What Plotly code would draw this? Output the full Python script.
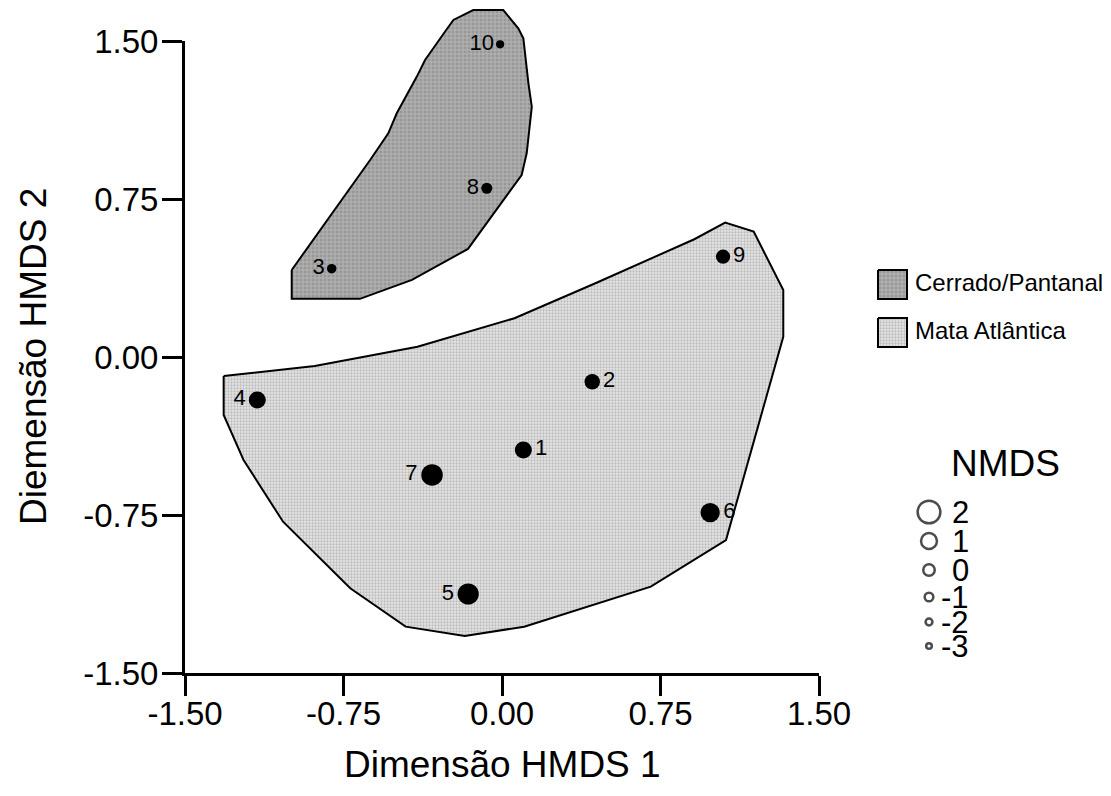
import plotly.graph_objects as go

# ---------------- data ----------------
site_ids = ["1", "2", "3", "4", "5", "6", "7", "8", "9", "10"]
dim1 = [0.101, 0.427, -0.806, -1.158, -0.160, 0.985, -0.331, -0.072, 1.046, -0.009]
dim2 = [-0.441, -0.117, 0.419, -0.204, -1.125, -0.739, -0.560, 0.801, 0.476, 1.484]
nmds_size = [0.73, 0.39, -1.89, 0.73, 1.47, 1.16, 1.51, -1.07, 0.08, -3.0]
label_side = ["right", "right", "left", "left", "left", "right", "left", "left", "right", "left"]

cerrado_x = [-0.995, -0.995, -0.672, -0.426, -0.161, 0.093, 0.117, 0.141, 0.125, 0.101,
             0.077, 0.006, -0.136, -0.230, -0.270, -0.364, -0.403, -0.498, -0.538, -0.624]
cerrado_y = [0.413, 0.276, 0.276, 0.366, 0.513, 0.864, 0.968, 1.188, 1.299, 1.513,
             1.560, 1.647, 1.647, 1.600, 1.544, 1.410, 1.331, 1.157, 1.062, 0.935]

mata_x = [-1.317, -0.886, -0.400, 0.059, 0.442, 0.910, 1.056, 1.191, 1.331, 1.331,
          1.060, 0.704, 0.105, -0.176, -0.456, -0.718, -1.036, -1.223, -1.317]
mata_y = [-0.090, -0.043, 0.049, 0.184, 0.350, 0.559, 0.638, 0.595, 0.318, 0.096,
          -0.869, -1.090, -1.280, -1.324, -1.280, -1.098, -0.782, -0.489, -0.275]

group_names = ["Cerrado/Pantanal", "Mata Atlântica"]
size_levels = [2, 1, 0, -1, -2, -3]
size_labels = ["2", "1", "0", "-1", "-2", "-3"]
axis_ticks = [-1.5, -0.75, 0.0, 0.75, 1.5]
axis_ticktext = ["-1.50", "-0.75", "0.00", "0.75", "1.50"]

# ---------------- styling / geometry ----------------
W, H = 1111, 796
PX_L, PX_R, PX_T, PX_B = 185, 819, 41, 673
FONT = "Liberation Sans, Arial, Helvetica, sans-serif"
TICK_SIZE = 33
TITLE_SIZE = 37
RING_LW = 2.5


def diam(v):
    """bubble diameter (px) for a value of the size variable"""
    return 6.0 + 8.0 * 1.55 ** v


def closed(seq):
    return list(seq) + [seq[0]]


y_per_px = 3.0 / (PX_B - PX_T)
y_top_ext = 1.5 + PX_T * y_per_px

pat_cerrado = dict(shape="+", size=4, solidity=0.4, bgcolor="#979797", fgcolor="#dcdcdc")
pat_mata = dict(shape=".", size=3, solidity=0.45, bgcolor="#e6e6e6", fgcolor="#909090")

fig = go.Figure()

# group hulls (on an extended y axis with identical scale so nothing is clipped)
fig.add_trace(go.Scatter(x=closed(cerrado_x), y=closed(cerrado_y), xaxis="x", yaxis="y2",
                         mode="lines", fill="toself", fillpattern=pat_cerrado,
                         line=dict(color="black", width=2), hoverinfo="skip", showlegend=False))
fig.add_trace(go.Scatter(x=closed(mata_x), y=closed(mata_y), xaxis="x", yaxis="y2",
                         mode="lines", fill="toself", fillpattern=pat_mata,
                         line=dict(color="black", width=2), hoverinfo="skip", showlegend=False))

# points
for side in ["left", "right"]:
    idx = [i for i in range(len(site_ids)) if label_side[i] == side]
    fig.add_trace(go.Scatter(
        x=[dim1[i] for i in idx], y=[dim2[i] for i in idx], xaxis="x", yaxis="y2",
        mode="markers+text", text=[site_ids[i] for i in idx],
        textposition="middle " + side,
        textfont=dict(family=FONT, size=22, color="black"),
        marker=dict(color="black", size=[diam(nmds_size[i]) for i in idx],
                    line=dict(width=0), opacity=1),
        cliponaxis=False, showlegend=False))

# invisible anchor on main axes so they render
fig.add_trace(go.Scatter(x=[None], y=[None], xaxis="x", yaxis="y", showlegend=False))

# ---------------- custom legends (pixel overlay axis) ----------------
box_x0, box_x1 = 878, 907
box_rows = [(270, 299), (318, 347)]
pats = [pat_cerrado, pat_mata]
for (y0, y1), name, pat in zip(box_rows, group_names, pats):
    fig.add_trace(go.Scatter(x=[box_x0, box_x1, box_x1, box_x0, box_x0],
                             y=[y0, y0, y1, y1, y0], xaxis="x3", yaxis="y3",
                             mode="lines", fill="toself", fillpattern=pat,
                             line=dict(color="black", width=2), hoverinfo="skip", showlegend=False))
    fig.add_trace(go.Scatter(x=[box_x1 + 8], y=[(y0 + y1) / 2], xaxis="x3", yaxis="y3",
                             mode="text", text=[name], textposition="middle right",
                             textfont=dict(family=FONT, size=24, color="black"),
                             hoverinfo="skip", showlegend=False, cliponaxis=False))

circ_x = 929
circ_y = [512, 541, 570, 597, 622, 646]
fig.add_trace(go.Scatter(x=[circ_x] * len(size_levels), y=circ_y, xaxis="x3", yaxis="y3",
                         mode="markers", marker=dict(symbol="circle-open", color="black",
                                                     size=[diam(v) - RING_LW for v in size_levels],
                                                     line=dict(width=RING_LW, color="black")),
                         hoverinfo="skip", showlegend=False, cliponaxis=False))
for yy, lab in zip(circ_y, size_labels):
    fig.add_annotation(x=970, y=yy, xref="x3", yref="y3", text=lab, showarrow=False,
                       font=dict(family=FONT, size=31, color="black"),
                       xanchor="right", yanchor="middle", borderpad=0)

fig.add_annotation(x=1005 / W, y=1 - 463 / H, xref="paper", yref="paper", text="NMDS",
                   showarrow=False, font=dict(family=FONT, size=37, color="black"),
                   xanchor="center", yanchor="middle")

# axis titles
fig.add_annotation(x=(PX_L + PX_R) / 2 / W, y=1 - 764 / H, xref="paper", yref="paper",
                   text="Dimensão HMDS 1", showarrow=False,
                   font=dict(family=FONT, size=TITLE_SIZE, color="black"),
                   xanchor="center", yanchor="middle")
fig.add_annotation(x=33 / W, y=1 - (PX_T + PX_B) / 2 / H, xref="paper", yref="paper",
                   text="Diemensão HMDS 2", showarrow=False, textangle=-90,
                   font=dict(family=FONT, size=TITLE_SIZE, color="black"),
                   xanchor="center", yanchor="middle")

axis_common = dict(
    tickvals=axis_ticks, ticktext=axis_ticktext, ticks="outside", ticklen=20, tickwidth=3,
    tickcolor="black", showline=True, linewidth=3, linecolor="black", showgrid=False,
    zeroline=False, tickfont=dict(family=FONT, size=TICK_SIZE, color="black"),
    fixedrange=True, automargin=False,
)
hidden = dict(visible=False, fixedrange=True, automargin=False, showgrid=False, zeroline=False)

fig.update_layout(
    width=W, height=H, margin=dict(l=0, r=0, t=0, b=0, pad=0, autoexpand=False),
    paper_bgcolor="white", plot_bgcolor="rgba(0,0,0,0)", showlegend=False,
    xaxis=dict(domain=[PX_L / W, PX_R / W], range=[-1.5, 1.5], anchor="y",
               ticklabelstandoff=-11, **axis_common),
    yaxis=dict(domain=[1 - PX_B / H, 1 - PX_T / H], range=[-1.5, 1.5], anchor="x",
               ticklabelstandoff=-3, **axis_common),
    yaxis2=dict(domain=[1 - PX_B / H, 1.0], range=[-1.5, y_top_ext], anchor="x", **hidden),
    xaxis3=dict(domain=[840 / W, 1.0], range=[840, W], anchor="y3", **hidden),
    yaxis3=dict(domain=[0.0, 1.0], range=[H, 0], anchor="x3", **hidden),
)

fig.write_html("out.html")
